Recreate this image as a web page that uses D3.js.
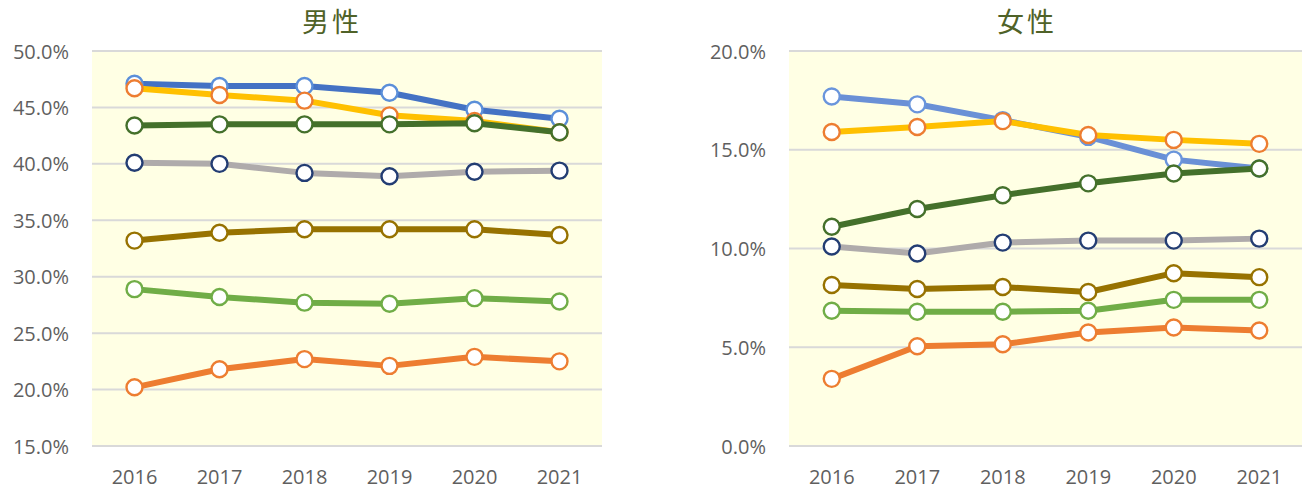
<!DOCTYPE html>
<html><head><meta charset="utf-8">
<script src="https://cdn.jsdelivr.net/npm/d3@7"></script>
<style>
html,body{margin:0;padding:0;background:#fff;}
svg{display:block;}
</style></head>
<body>
<svg id="chart" width="1309" height="489"></svg>
<script>
const years = ["2016","2017","2018","2019","2020","2021"];

// 男性 (male) series, percent
const maleBlue      = [47.1, 46.9, 46.9, 46.3, 44.8, 44.0];
const maleYellow    = [46.7, 46.1, 45.6, 44.3, 43.8, 42.8];
const maleDarkGreen = [43.4, 43.5, 43.5, 43.5, 43.6, 42.8];
const maleGray      = [40.1, 40.0, 39.2, 38.9, 39.3, 39.4];
const maleGold      = [33.2, 33.9, 34.2, 34.2, 34.2, 33.7];
const maleLightGreen= [28.9, 28.2, 27.7, 27.6, 28.1, 27.8];
const maleOrange    = [20.2, 21.8, 22.7, 22.1, 22.9, 22.5];

// 女性 (female) series, percent
const femBlue      = [17.7, 17.3, 16.5, 15.65, 14.5, 14.05];
const femYellow    = [15.9, 16.15, 16.45, 15.75, 15.5, 15.3];
const femDarkGreen = [11.1, 12.0, 12.7, 13.3, 13.8, 14.05];
const femGray      = [10.1, 9.75, 10.3, 10.4, 10.4, 10.5];
const femGold      = [8.15, 7.95, 8.05, 7.8, 8.75, 8.55];
const femLightGreen= [6.85, 6.8, 6.8, 6.85, 7.4, 7.4];
const femOrange    = [3.4, 5.05, 5.15, 5.75, 6.0, 5.85];

const maleTicks = [15, 20, 25, 30, 35, 40, 45, 50];
const femTicks  = [0, 5, 10, 15, 20];

const styles = [
  {line:"#4472C4", marker:"#5B8FD9"},
  {line:"#FFC000", marker:"#ED7D31"},
  {line:"#44702B", marker:"#44702B"},
  {line:"#AFABAB", marker:"#233D73"},
  {line:"#977200", marker:"#977200"},
  {line:"#70AD47", marker:"#70AD47"},
  {line:"#ED7D31", marker:"#ED7D31"}
];
const stylesF = [
  {line:"#6A90D6", marker:"#6A95DC"},
  ...styles.slice(1)
];

const svg = d3.select("#chart");
const fontAxis = "'Open Sans', 'Noto Sans', sans-serif";

function drawChart(cfg){
  const g = svg.append("g");
  const x = d3.scaleBand().domain(years).range([cfg.x0, cfg.x1]);
  const y = d3.scaleLinear().domain(cfg.domain).range([cfg.y1, cfg.y0]);

  g.append("rect").attr("x", cfg.x0).attr("y", cfg.y0)
    .attr("width", cfg.x1 - cfg.x0).attr("height", cfg.y1 - cfg.y0)
    .attr("fill", "#FFFFE4");

  g.selectAll("line.grid").data(cfg.ticks).enter().append("line")
    .attr("x1", cfg.x0).attr("x2", cfg.x1)
    .attr("y1", d => y(d)).attr("y2", d => y(d))
    .attr("stroke", "#D9D9D9").attr("stroke-width", 2);

  // y axis labels
  const yAxis = d3.axisLeft(y).tickValues(cfg.ticks).tickSize(0).tickPadding(0)
    .tickFormat(d => d3.format(".1f")(d) + "%");
  const ya = g.append("g").attr("transform", `translate(${cfg.labelX},0)`).call(yAxis);
  ya.select(".domain").remove();
  ya.selectAll("text").attr("font-family", fontAxis).attr("font-size", 20)
    .attr("fill", "#5F5F5F").attr("dy", "0.35em");

  // x axis labels
  const xAxis = d3.axisBottom(x).tickSize(0).tickPadding(0);
  const xa = g.append("g").attr("transform", `translate(0,${cfg.y1 + 38})`).call(xAxis);
  xa.select(".domain").remove();
  xa.selectAll("text").attr("font-family", fontAxis).attr("font-size", 20)
    .attr("fill", "#5F5F5F").attr("dy", "0");

  const line = d3.line().x((d,i) => x(years[i]) + x.bandwidth()/2).y(d => y(d));
  cfg.series.forEach((s, k) => {
    const st = cfg.styles[k];
    g.append("path").attr("d", line(s)).attr("fill", "none")
      .attr("stroke", st.line).attr("stroke-width", 6)
      .attr("stroke-linejoin", "round").attr("stroke-linecap", "round");
    g.selectAll(null).data(s).enter().append("circle")
      .attr("cx", (d,i) => x(years[i]) + x.bandwidth()/2)
      .attr("cy", d => y(d))
      .attr("r", 8)
      .attr("fill", "#fff").attr("stroke", st.marker).attr("stroke-width", 2.4);
  });

  svg.append("text").attr("x", cfg.titleX).attr("y", 32)
    .attr("text-anchor", "middle")
    .attr("font-family", "'Noto Sans CJK JP', sans-serif")
    .attr("font-size", 27).attr("letter-spacing", 3)
    .attr("fill", "#4F6228").text(cfg.title);
}

drawChart({
  title: "男性", titleX: 332,
  x0: 92, x1: 602, y0: 51, y1: 446, labelX: 69,
  domain: [15, 50], ticks: maleTicks,
  series: [maleBlue, maleYellow, maleDarkGreen, maleGray, maleGold, maleLightGreen, maleOrange],
  styles: styles
});
drawChart({
  title: "女性", titleX: 1027,
  x0: 789, x1: 1302, y0: 51, y1: 446, labelX: 766,
  domain: [0, 20], ticks: femTicks,
  series: [femBlue, femYellow, femDarkGreen, femGray, femGold, femLightGreen, femOrange],
  styles: stylesF
});
</script>
</body></html>
